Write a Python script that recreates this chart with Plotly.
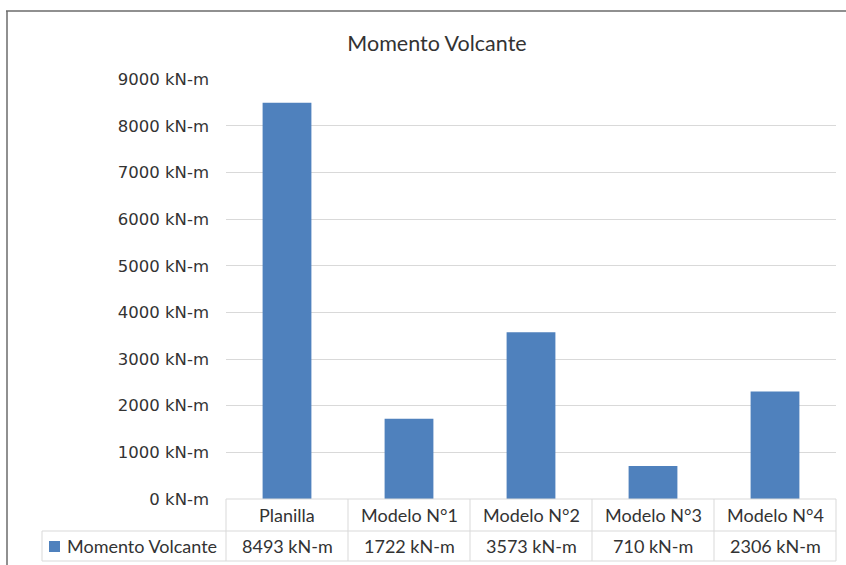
import plotly.graph_objects as go

# ---- data ----
categories = ["Planilla", "Modelo N°1", "Modelo N°2", "Modelo N°3", "Modelo N°4"]
values = [8493, 1722, 3573, 710, 2306]
series_name = "Momento Volcante"
unit = "kN-m"
tick_vals = [0, 1000, 2000, 3000, 4000, 5000, 6000, 7000, 8000, 9000]
tick_text = [f"{v} {unit}" for v in tick_vals]
title_text = "Momento Volcante"

# ---- layout geometry ----
W, H = 846, 565
L, R, T, B = 226, 10, 79, 66
PW, PH = W - L - R, H - T - B

def dx(px):  # pixel x -> x-domain fraction
    return (px - L) / PW

def dy(py):  # pixel y -> y-domain fraction
    return (H - B - py) / PH

BAR = "#4F81BD"
GRID = "#D9D9D9"
TXT = "#333333"
TABLE_FONT = dict(family="Lato, Open Sans, sans-serif", size=18, color=TXT)

fig = go.Figure(go.Bar(x=categories, y=values, name=series_name,
                       marker=dict(color=BAR, line=dict(width=0))))

shapes = []
line_style = dict(color=GRID, width=1)
n = len(categories)
# header top
shapes.append(dict(type="line", xref="x domain", yref="y domain", x0=0, x1=1, y0=0, y1=0, line=line_style))
# row separators
for py in (531, 561):
    shapes.append(dict(type="line", xref="x domain", yref="y domain", x0=dx(42), x1=1,
                       y0=dy(py), y1=dy(py), line=line_style))
# vertical separators
for i in range(n + 1):
    shapes.append(dict(type="line", xref="x domain", yref="y domain", x0=i / n, x1=i / n,
                       y0=dy(561), y1=0, line=line_style))
shapes.append(dict(type="line", xref="x domain", yref="y domain", x0=dx(42), x1=dx(42),
                   y0=dy(561), y1=dy(531), line=line_style))
# legend key
shapes.append(dict(type="rect", xref="x domain", yref="y domain", x0=dx(49), x1=dx(60),
                   y0=dy(552), y1=dy(541), fillcolor=BAR, line=dict(width=0)))
# chart frame (top and left edges visible)
shapes.append(dict(type="line", xref="x domain", yref="y domain", x0=dx(6), x1=dx(W + 5),
                   y0=dy(11), y1=dy(11), line=dict(color="#6B6B6B", width=1.5)))
shapes.append(dict(type="line", xref="x domain", yref="y domain", x0=dx(7), x1=dx(7),
                   y0=dy(11), y1=dy(H + 5), line=dict(color="#6B6B6B", width=1.5)))

annotations = []
for c, v in zip(categories, values):
    annotations.append(dict(x=c, xref="x", y=dy(515), yref="y domain", text=c,
                            showarrow=False, font=TABLE_FONT, xanchor="center", yanchor="middle"))
    annotations.append(dict(x=c, xref="x", y=dy(546), yref="y domain", text=f"{v} {unit}",
                            showarrow=False, font=TABLE_FONT, xanchor="center", yanchor="middle"))
annotations.append(dict(x=dx(65), xref="x domain", y=dy(546), yref="y domain", text=series_name,
                        showarrow=False, font=TABLE_FONT, xanchor="left", yanchor="middle"))

fig.update_layout(
    width=W, height=H,
    margin=dict(l=L, r=R, t=T, b=B, pad=0),
    paper_bgcolor="white", plot_bgcolor="white",
    showlegend=False,
    bargap=0.6,
    title=dict(text=title_text, x=437 / W, xref="container", xanchor="center",
               y=1 - 43 / H, yref="container", yanchor="middle",
               font=dict(family="Lato, Open Sans, sans-serif", size=21.5, color=TXT)),
    xaxis=dict(showticklabels=False, showgrid=False, zeroline=False, showline=False,
               ticks="", range=[-0.5, n - 0.5]),
    yaxis=dict(range=[0, 9000 * 1.0005], tickvals=tick_vals, ticktext=tick_text,
               showgrid=True, gridcolor=GRID, gridwidth=1, zeroline=False, showline=False,
               ticks="", ticklabelstandoff=16,
               tickfont=dict(family="DejaVu Sans, sans-serif", size=16.5, color=TXT)),
    shapes=shapes,
    annotations=annotations,
)

fig.write_html("out.html", config={"displayModeBar": False},
               post_script="document.body.style.margin='0';document.body.style.overflow='hidden';")
